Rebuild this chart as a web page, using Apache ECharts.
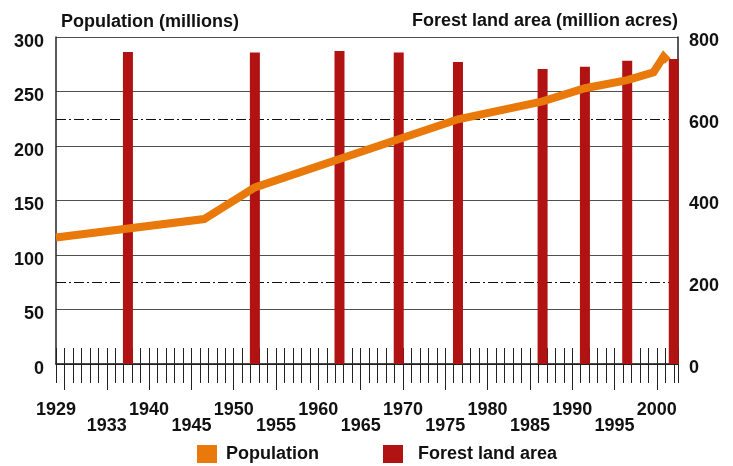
<!DOCTYPE html>
<html>
<head>
<meta charset="utf-8">
<script src="https://cdn.jsdelivr.net/npm/echarts@6/dist/echarts.min.js"></script>
<style>
  html, body { margin: 0; padding: 0; background: #ffffff; }
  #chart { width: 733px; height: 466px; }
</style>
</head>
<body>
<div id="chart"></div>
<script>
// ---- data ----
const popYears = [1929, 1946.5, 1952.5, 1962.5, 1976.5, 1986.5, 1991.5, 1996.5, 1999.6, 2000.8, 2001.3];
const popValues = [116, 133, 162, 188, 224.5, 241, 253, 260.5, 267.5, 282, 278];

const forestYears = [1937.5, 1952.5, 1962.5, 1969.5, 1976.5, 1986.5, 1991.5, 1996.5, 2002];
const forestValues = [763, 762, 766, 762, 739, 722, 727, 742, 746];

const longTickYears = [1930, 1935, 1940, 1945, 1950, 1955, 1960, 1965, 1970, 1975, 1980, 1985, 1990, 1995, 2000];
const row1Pos = [1929, 1940, 1950, 1960, 1970, 1980, 1990, 2000];
const row1Labels = ['1929', '1940', '1950', '1960', '1970', '1980', '1990', '2000'];
const row2Pos = [1935, 1945, 1955, 1965, 1975, 1985, 1995];
const row2Labels = ['1933', '1945', '1955', '1965', '1975', '1985', '1995'];

const leftTitle = 'Population (millions)';
const rightTitle = 'Forest land area (million acres)';

// ---- styles ----
const FONT = 'Arial, "Liberation Sans", Helvetica, sans-serif';
const ORANGE = '#E8790A';
const RED = '#B11212';
const XMIN = 1929, XMAX = 2002.5;

function pair(xs, ys) { return xs.map((x, i) => [x, ys[i]]); }
function labelFor(posArr, labArr) {
  return v => { const i = posArr.indexOf(Math.round(v * 10) / 10); return i >= 0 ? labArr[i] : ''; };
}

const baseX = {
  type: 'value', min: XMIN, max: XMAX, position: 'bottom', offset: 0,
  splitLine: { show: false }
};

const chart = echarts.init(document.getElementById('chart'));
chart.setOption({
  animation: false,
  backgroundColor: '#ffffff',
  textStyle: { fontFamily: FONT },
  grid: { left: 56, right: 55, top: 37, bottom: 102, containLabel: false },
  title: [
    { text: leftTitle, left: 56, top: 8,
      textStyle: { fontFamily: FONT, fontSize: 18, fontWeight: 'bold', color: '#111' } },
    { text: rightTitle, right: 50, top: 7,
      textStyle: { fontFamily: FONT, fontSize: 18, fontWeight: 'bold', color: '#111' } }
  ],
  legend: [
    { data: [{ name: 'Population', icon: 'rect' }], left: 197, top: 445, padding: 0,
      itemWidth: 20, itemHeight: 18, itemGap: 0,
      textStyle: { fontFamily: FONT, fontSize: 18, fontWeight: 'bold', color: '#111', padding: [0, 0, 0, 4] } },
    { data: [{ name: 'Forest land area', icon: 'rect' }], left: 383, top: 445, padding: 0,
      itemWidth: 20, itemHeight: 18, itemGap: 0,
      textStyle: { fontFamily: FONT, fontSize: 18, fontWeight: 'bold', color: '#111', padding: [0, 0, 0, 10] } }
  ],
  xAxis: [
    Object.assign({}, baseX, {
      interval: 1,
      axisLine: { show: true, onZero: false, lineStyle: { color: '#111', width: 1.5 } },
      axisTick: { show: true, inside: true, length: 16, interval: 0, lineStyle: { color: '#222', width: 1 } },
      axisLabel: { show: false }
    }),
    Object.assign({}, baseX, {
      interval: 1,
      axisLine: { show: false },
      axisTick: { show: true, inside: false, length: 19, interval: 0, lineStyle: { color: '#222', width: 1 } },
      axisLabel: { show: false }
    }),
    Object.assign({}, baseX, {
      axisLine: { show: false },
      axisTick: { show: true, inside: false, length: 26, customValues: longTickYears, lineStyle: { color: '#222', width: 1 } },
      axisLabel: {
        show: true, customValues: row1Pos, margin: 37, hideOverlap: false,
        showMinLabel: true, showMaxLabel: true,
        formatter: labelFor(row1Pos, row1Labels),
        fontFamily: FONT, fontSize: 18, fontWeight: 'bold', color: '#111'
      }
    }),
    Object.assign({}, baseX, {
      axisLine: { show: false },
      axisTick: { show: false },
      axisLabel: {
        show: true, customValues: row2Pos, margin: 53, hideOverlap: false,
        showMinLabel: true, showMaxLabel: true,
        formatter: labelFor(row2Pos, row2Labels),
        fontFamily: FONT, fontSize: 18, fontWeight: 'bold', color: '#111'
      }
    })
  ],
  yAxis: [
    {
      type: 'value', min: 0, max: 300, interval: 50, position: 'left',
      axisLine: { show: true, lineStyle: { color: '#222', width: 1.5 } },
      axisTick: { show: false },
      axisLabel: { margin: 12, fontFamily: FONT, fontSize: 18, fontWeight: 'bold', color: '#111', verticalAlign: 'top', lineHeight: 10 },
      splitLine: { show: true, lineStyle: { color: '#505050', width: 1 } }
    },
    {
      type: 'value', min: 0, max: 800, interval: 200, position: 'right',
      axisLine: { show: true, lineStyle: { color: '#222', width: 1.5 } },
      axisTick: { show: false },
      axisLabel: { margin: 11, fontFamily: FONT, fontSize: 18, fontWeight: 'bold', color: '#111', verticalAlign: 'top', lineHeight: 8 },
      splitLine: { show: false }
    }
  ],
  series: [
    {
      name: 'Forest land area', type: 'bar', xAxisIndex: 0, yAxisIndex: 1,
      data: pair(forestYears, forestValues),
      barWidth: 10,
      itemStyle: { color: RED },
      z: 3,
      markLine: {
        silent: true, symbol: ['none', 'none'], label: { show: false },
        lineStyle: { color: '#111', width: 1, type: [10, 3, 2, 3] },
        data: [{ yAxis: 200 }, { yAxis: 600 }],
        z: 1
      }
    },
    {
      name: 'Population', type: 'line', xAxisIndex: 0, yAxisIndex: 0,
      data: pair(popYears, popValues),
      showSymbol: false, symbol: 'none',
      color: ORANGE,
      lineStyle: { color: ORANGE, width: 8, join: 'miter', cap: 'butt' },
      z: 4
    }
  ]
});
</script>
</body>
</html>
